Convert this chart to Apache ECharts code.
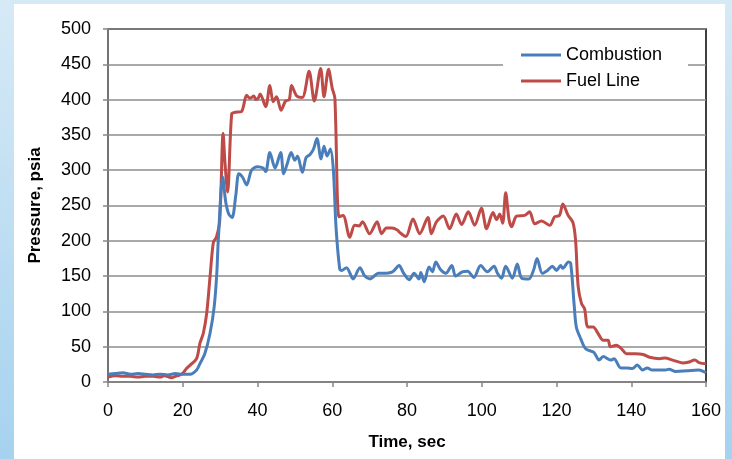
<!DOCTYPE html>
<html>
<head>
<meta charset="utf-8">
<script src="https://cdn.jsdelivr.net/npm/echarts@6/dist/echarts.min.js"></script>
<style>
  html, body { margin: 0; padding: 0; }
  body {
    width: 732px; height: 459px; overflow: hidden; position: relative;
    background: linear-gradient(to bottom, #d6eaf6, #a6d2ef);
  }
  #panel { position: absolute; left: 14px; top: 4px; width: 711px; height: 460px; background: #ffffff; }
  #chart { position: absolute; left: 0; top: 0; width: 732px; height: 459px; }
</style>
</head>
<body>
<div id="panel"></div>
<div id="chart"></div>
<script>
// Combustion pressure (blue)
const combustionTime = [0, 2, 4, 6, 8, 10, 12, 14, 16, 18, 20, 22, 23.7, 24.6, 25.9, 27.3, 28.4, 29.1, 29.5, 30.7,
  31.5, 32.3, 33.2, 34.2, 35, 36, 37.1, 38.4, 40, 41.5, 42.2, 43.3, 44.7, 46.2, 47, 48, 49, 50, 50.7, 52,
  53, 54, 55, 55.9, 57, 57.8, 58.6, 59.5, 60.3, 61, 62, 62.5, 63.8, 65.6, 67.4, 68.7, 70.1, 71, 72.3, 73.6,
  76.1, 77.9, 79, 80.6, 81.9, 83.2, 83.7, 84.6, 85.9, 86.8, 87.7, 89, 90.4, 92, 93, 94.8, 96.2, 97.9, 99.7,
  101.5, 103.3, 104.2, 105.3, 106.4, 108.2, 109.5, 110.7, 112.6, 113.9, 114.8, 116.2, 117.6, 118.9, 120,
  121.1, 121.7, 123.2, 123.8, 124.7, 125.3, 126.5, 127.8, 130, 131.4, 132.5, 134.5, 135.4, 137.2, 138.9,
  140.3, 141.6, 143, 144.3, 145.6, 147.5, 149.2, 150.1, 151.9, 155, 158.1, 160];
const combustionPsi = [11, 12, 13, 11, 12, 11, 10, 11, 10, 12, 11, 11, 17, 26, 40, 69, 106, 153, 200, 290,
  255, 238, 233, 265, 295, 290, 279, 300, 305, 303, 298, 325, 303, 325, 295, 310, 325, 314, 320, 297,
  318, 322, 330, 345, 316, 334, 320, 330, 300, 220, 160, 158, 162, 146, 162, 150, 146, 149, 154, 154,
  156, 165, 155, 145, 154, 146, 155, 142, 163, 156, 170, 159, 154, 165, 150, 156, 157, 148, 165,
  156, 164, 154, 147, 164, 147, 167, 147, 146, 159, 175, 154, 158, 164, 158,
  165, 161, 170, 168, 111, 78, 61, 47, 42, 31, 36, 31, 33, 20, 20,
  19, 24, 17, 20, 17, 17, 17, 18, 15, 16, 17, 13];

// Fuel line pressure (red)
const fuelTime = [0, 2, 4, 6, 8, 10, 12, 14, 15, 17, 18, 19.7, 21, 22, 23.7, 24.6, 25.5, 26.4, 27.3, 28.2,
  29, 29.9, 30.8, 31.3, 32, 33.1, 34, 35.7, 37.1, 38, 39, 39.6, 40.2, 40.7, 42.2, 43.3, 44.2, 45.1, 46.3, 47.5,
  48.5, 49.1, 50.5, 52, 53.8, 55.2, 56.9, 57.8, 59, 60, 60.7, 61.8, 62.9, 64.7, 66, 67.2, 68.1, 70, 72, 73.2,
  74.5, 76, 77.5, 78, 79.7, 81.6, 83.4, 85.6, 86.5, 87.9, 89.7, 91.4, 93.2, 94.6, 96.4, 98.1, 99.9, 101.3, 103,
  104, 104.8, 105.6, 106.4, 107.3, 108, 109.3, 111.5, 112.8, 114.2, 116, 118.2, 119.5, 120.8, 121.7, 123.1,
  124.4, 125.1, 125.8, 126.7, 127.5, 128.4, 129.8, 131.1, 132.5, 133.8, 134.4, 136, 137.4, 138.7, 141, 143.2,
  144.9, 147.6, 149, 151.1, 153.8, 155.2, 157, 158.3, 160];
const fuelPsi = [7, 9, 8, 8, 7, 8, 8, 7, 9, 6, 8, 11, 19, 24, 33, 55, 69, 97, 149, 198,
  205, 229, 352, 310, 269, 380, 382, 383, 406, 402, 405, 400, 402, 408, 390, 420, 397, 404, 385, 398,
  400, 420, 405, 403, 440, 398, 444, 404, 443, 416, 402, 234, 236, 205, 222, 221, 227, 210, 227, 210,
  218, 218, 215, 212, 206, 231, 210, 233, 210, 227, 235, 217, 238, 223, 241, 222, 246, 217, 240,
  230, 238, 225, 268, 230, 220, 235, 236, 241, 224, 228, 222, 234, 236, 252, 236,
  226, 201, 135, 111, 104, 78, 78, 69, 59, 59, 50, 52, 47, 40, 40, 39,
  35, 33, 34, 31, 27, 28, 31, 27, 26];

const yTicks = [0, 50, 100, 150, 200, 250, 300, 350, 400, 450, 500];
const xTicks = [0, 20, 40, 60, 80, 100, 120, 140, 160];

const zip = (xs, ys) => xs.map((x, i) => [x, ys[i]]);

const chart = echarts.init(document.getElementById('chart'), null, { renderer: 'canvas' });

chart.setOption({
  backgroundColor: 'transparent',
  animation: false,
  textStyle: { fontFamily: 'Liberation Sans, Arial, sans-serif' },
  grid: {
    left: 108, right: 26, top: 29, bottom: 77,
    show: true, borderColor: '#000', borderWidth: 1.5
  },
  legend: {
    left: 503, top: 42,
    orient: 'vertical',
    backgroundColor: '#ffffff',
    padding: [4, 26, 6, 18],
    itemGap: 8,
    itemWidth: 40, itemHeight: 3,
    icon: 'rect',
    textStyle: { fontSize: 18, color: '#000', fontFamily: 'Liberation Sans, Arial, sans-serif' },
    data: ['Combustion', 'Fuel Line']
  },
  xAxis: {
    type: 'value',
    min: xTicks[0], max: xTicks[xTicks.length - 1], interval: 20,
    name: 'Time, sec', nameLocation: 'middle', nameGap: 52,
    nameTextStyle: { fontSize: 17, fontWeight: 'bold', color: '#000' },
    axisLine: { show: true, lineStyle: { color: '#868686', width: 1.5 } },
    axisTick: { show: true, length: 5, lineStyle: { color: '#868686', width: 1.5 } },
    axisLabel: { fontSize: 18, color: '#000', margin: 20 },
    splitLine: { show: false }
  },
  yAxis: {
    type: 'value',
    min: yTicks[0], max: yTicks[yTicks.length - 1], interval: 50,
    name: 'Pressure, psia', nameLocation: 'middle', nameGap: 64,
    nameTextStyle: { fontSize: 17, fontWeight: 'bold', color: '#000' },
    axisLine: { show: true, lineStyle: { color: '#868686', width: 1.5 } },
    axisTick: { show: true, length: 5, lineStyle: { color: '#868686', width: 1.5 } },
    axisLabel: { fontSize: 18, color: '#000', margin: 17 },
    splitLine: { show: true, lineStyle: { color: '#8c8c8c', width: 1.5 } }
  },
  series: [
    {
      name: 'Combustion',
      type: 'line',
      data: zip(combustionTime, combustionPsi),
      showSymbol: false, symbol: 'none',
      smooth: 0.3,
      lineStyle: { color: '#4a7ebb', width: 3 },
      itemStyle: { color: '#4a7ebb' },
      z: 3
    },
    {
      name: 'Fuel Line',
      type: 'line',
      data: zip(fuelTime, fuelPsi),
      showSymbol: false, symbol: 'none',
      smooth: 0.3,
      lineStyle: { color: '#be4b48', width: 3 },
      itemStyle: { color: '#be4b48' },
      z: 2
    }
  ]
});
</script>
</body>
</html>
